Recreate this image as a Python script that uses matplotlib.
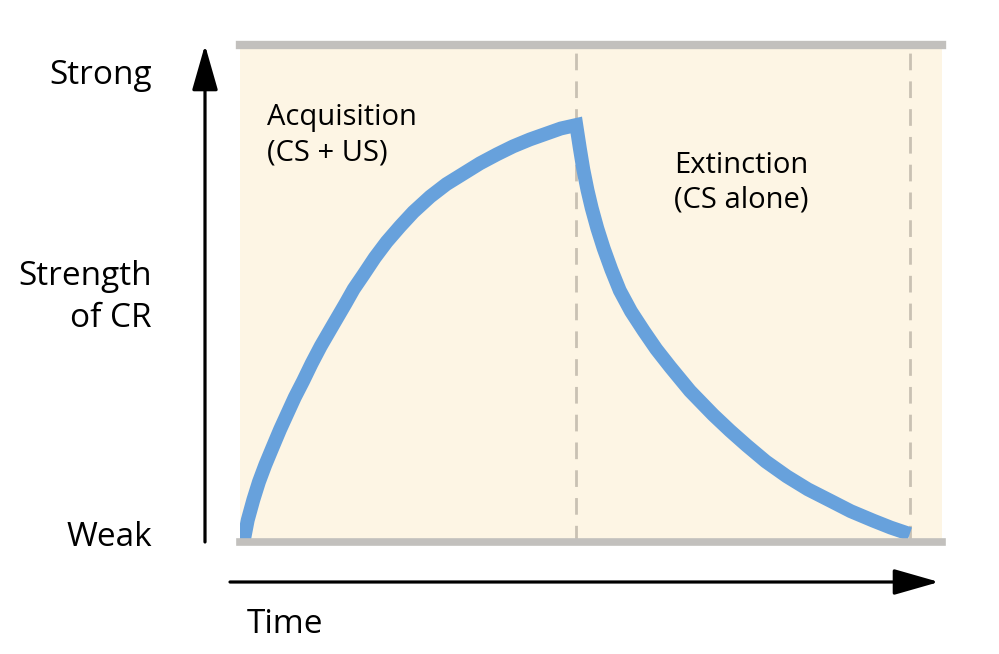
import matplotlib.pyplot as plt
from matplotlib.patches import FancyArrowPatch

# acquisition curve (CS + US), time 0..1, strength 0..1
acq_t = [0.005, 0.011, 0.019, 0.027, 0.036, 0.046, 0.057, 0.067, 0.078, 0.090,
         0.102, 0.115, 0.131, 0.150, 0.162, 0.176, 0.192, 0.209, 0.228, 0.247,
         0.271, 0.294, 0.318, 0.342, 0.366, 0.389, 0.413, 0.437, 0.457, 0.479]
acq_s = [0.000, 0.044, 0.085, 0.121, 0.155, 0.189, 0.226, 0.257, 0.291, 0.324,
         0.359, 0.394, 0.433, 0.479, 0.509, 0.538, 0.572, 0.604, 0.635, 0.664,
         0.695, 0.720, 0.741, 0.762, 0.780, 0.796, 0.810, 0.822, 0.832, 0.839]

# extinction curve (CS alone)
ext_t = [0.479, 0.484, 0.489, 0.495, 0.501, 0.509, 0.518, 0.529, 0.541, 0.557,
         0.575, 0.593, 0.613, 0.641, 0.674, 0.698, 0.722, 0.749, 0.779, 0.809,
         0.841, 0.870, 0.902, 0.927, 0.954]
ext_s = [0.839, 0.793, 0.750, 0.708, 0.672, 0.631, 0.591, 0.548, 0.506, 0.464,
         0.425, 0.388, 0.352, 0.304, 0.256, 0.224, 0.194, 0.162, 0.132, 0.106,
         0.083, 0.062, 0.043, 0.029, 0.016]

phase_edges = [0.479, 0.954]

plt.rcParams['font.family'] = ['Open Sans', 'DejaVu Sans']

W, H = 999, 654
fig = plt.figure(figsize=(W / 100, H / 100), dpi=100)
ax = fig.add_axes([240 / W, (H - 542) / H, 702 / W, 497 / H])
ax.set_facecolor('#fdf5e4')
ax.set_xlim(0, 1)
ax.set_ylim(0, 1)
for s in ax.spines.values():
    s.set_visible(False)
ax.set_xticks([])
ax.set_yticks([])

for x in phase_edges:
    ax.axvline(x, color='#c9c1b3', lw=2, ls=(0, (6, 4)), zorder=1)

# one stroke so the peak gets a sharp corner
ax.plot(acq_t[:-1] + ext_t, acq_s[:-1] + ext_s, color='#67a1dc', lw=10,
        solid_joinstyle='miter', solid_capstyle='butt', zorder=2)

ax.axhline(1, color='#c2c0bd', lw=6, zorder=3, clip_on=False)
ax.axhline(0, color='#c2c0bd', lw=5.5, zorder=3, clip_on=False)


def fx(px):
    return px / W


def fy(py):
    return (H - py) / H


inner = dict(fontsize=21, fontweight='medium', va='baseline', ha='left')
fig.text(fx(267), fy(125), 'Acquisition', **inner)
fig.text(fx(267), fy(160), '(CS + US)', **inner)
fig.text(fx(674), fy(173), 'Extinction', **inner)
fig.text(fx(674), fy(207), '(CS alone)', **inner)

outer = dict(fontsize=24, fontweight='medium', va='baseline')
fig.text(fx(152), fy(84), 'Strong', ha='right', **outer)
fig.text(fx(152), fy(285), 'Strength', ha='right', **outer)
fig.text(fx(152), fy(327), 'of CR', ha='right', **outer)
fig.text(fx(152), fy(546), 'Weak', ha='right', **outer)
fig.text(fx(247), fy(633), 'Time', ha='left', **outer)

arrow = dict(arrowstyle='-|>,head_length=0.7,head_width=0.2', mutation_scale=40,
             color='black', lw=2.3, shrinkA=0, shrinkB=0,
             transform=fig.transFigure)
fig.add_artist(FancyArrowPatch((fx(205), fy(542)), (fx(205), fy(45)), **arrow))
fig.add_artist(FancyArrowPatch((fx(230), fy(582)), (fx(939), fy(582)), **arrow))

fig.savefig('out.png', dpi=100, facecolor='white')
